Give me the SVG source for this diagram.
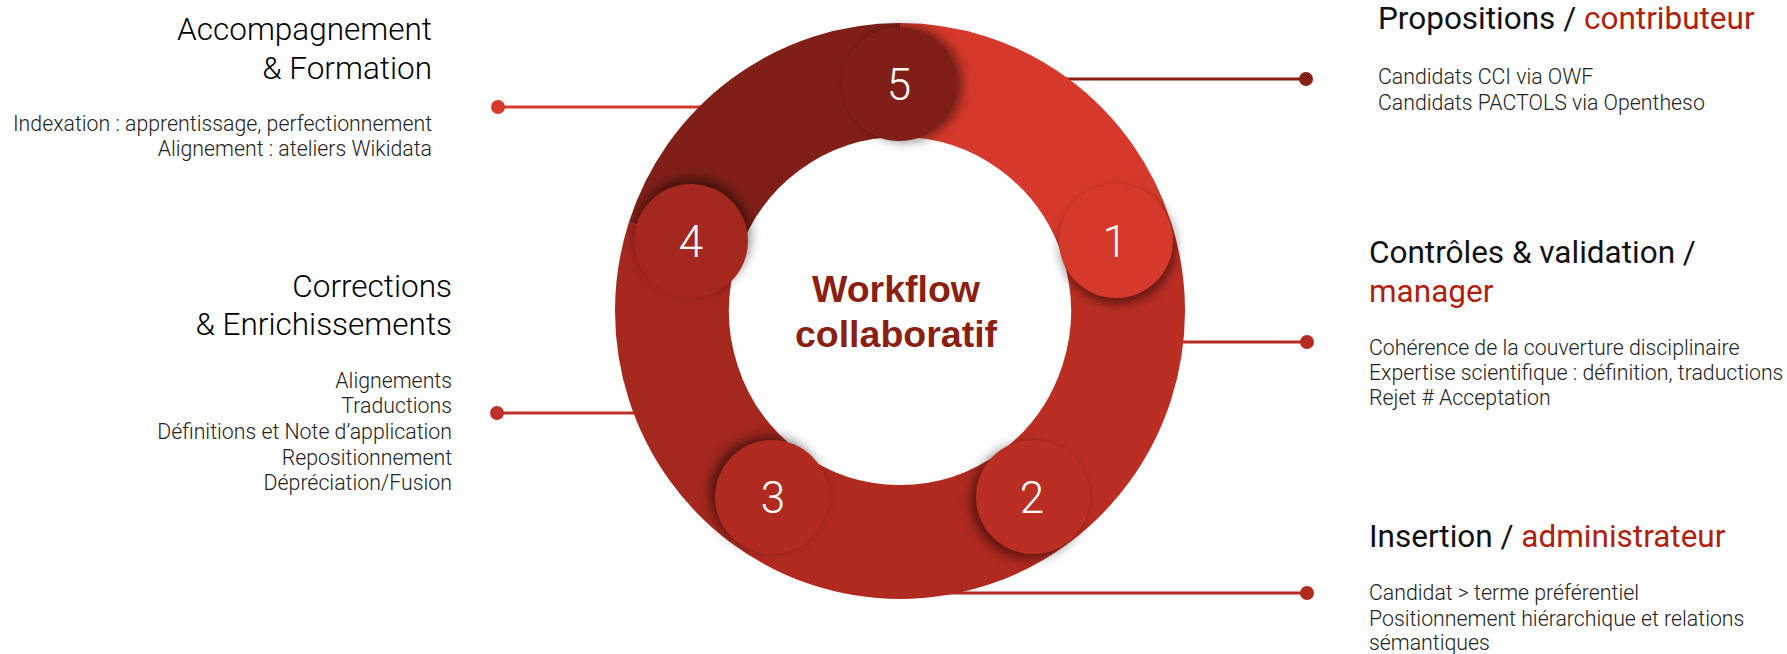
<svg xmlns="http://www.w3.org/2000/svg" width="1787" height="654" viewBox="0 0 1787 654">
<defs>
<style>
.h{font-family:Roboto,"Liberation Sans",sans-serif;font-size:31.5px;font-weight:400;fill:#111}
.hl{font-weight:300;fill:#000}
.hr{fill:#b0200f}
.b{font-family:Roboto,"Liberation Sans",sans-serif;font-size:21.3px;font-weight:300;fill:#222}
.num{font-family:Roboto,"Liberation Sans",sans-serif;font-size:44px;font-weight:300;fill:#fff;text-anchor:middle}
.ctr{font-family:"Liberation Sans",Arial,sans-serif;font-size:37.5px;font-weight:700;fill:#8b1f12;text-anchor:middle}
.seg{fill:none;stroke-width:114}
.ln{stroke-width:3;fill:none}
.sh{fill:#000;opacity:0.5;filter:url(#blur)}
</style>
<filter id="blur" x="-50%" y="-50%" width="200%" height="200%"><feGaussianBlur stdDeviation="6"/></filter>
</defs>
<rect width="1787" height="654" fill="#fff"/>
<g id="connectors">
<line class="ln" x1="498" y1="107" x2="780" y2="107" stroke="#d63a2c"/><circle cx="498" cy="107" r="7" fill="#d63a2c"/>
<line class="ln" x1="497" y1="413" x2="700" y2="413" stroke="#bd3027"/><circle cx="497" cy="413" r="7" fill="#bd3027"/>
<line class="ln" x1="960" y1="79" x2="1306" y2="79" stroke="#8c1d15"/><circle cx="1306" cy="79" r="7" fill="#85201a"/>
<line class="ln" x1="1100" y1="342" x2="1307" y2="342" stroke="#b52b22"/><circle cx="1307" cy="342" r="7" fill="#b52b22"/>
<line class="ln" x1="940" y1="593" x2="1307" y2="593" stroke="#b02a20"/><circle cx="1307" cy="593" r="7" fill="#b02a20"/>
</g>
<g id="ring">
<path class="seg" stroke="#d5392b" d="M900,80 A228,231 0 0 1 1116.84,239.62"/>
<path class="seg" stroke="#bb2e23" d="M1116.84,239.62 A228,231 0 0 1 1034.02,497.88"/>
<path class="seg" stroke="#b02a20" d="M1034.02,497.88 A228,231 0 0 1 765.98,497.88"/>
<path class="seg" stroke="#a5281f" d="M765.98,497.88 A228,231 0 0 1 683.16,239.62"/>
<path class="seg" stroke="#801f18" d="M683.16,239.62 A228,231 0 0 1 900,80"/>
</g>
<g id="node-5">
<circle class="sh" cx="905" cy="84" r="57"/>
<circle cx="899" cy="84" r="57" fill="#801f18"/>
<text class="num" x="899" y="100">5</text>
</g>
<g id="node-1">
<circle class="sh" cx="1118" cy="247" r="57"/>
<circle cx="1116" cy="241" r="57" fill="#d5392b"/>
<text class="num" x="1115" y="257">1</text>
</g>
<g id="node-2">
<circle class="sh" cx="1028" cy="501" r="57"/>
<circle cx="1033" cy="497" r="57" fill="#bb2e23"/>
<text class="num" x="1032" y="513">2</text>
</g>
<g id="node-3">
<circle class="sh" cx="767" cy="493" r="57"/>
<circle cx="772" cy="497" r="57" fill="#b02a20"/>
<text class="num" x="773" y="513">3</text>
</g>
<g id="node-4">
<circle class="sh" cx="693" cy="235" r="57"/>
<circle cx="691" cy="241" r="57" fill="#a5281f"/>
<text class="num" x="691" y="257">4</text>
</g>
<g id="center-label">
<text class="ctr" x="896" y="302">Workflow</text>
<text class="ctr" x="896" y="347">collaboratif</text>
</g>
<g id="label-accompagnement" text-anchor="end">
<text class="h hl" x="432" y="40">Accompagnement</text>
<text class="h hl" x="432" y="79">&amp; Formation</text>
<text class="b" x="432" y="131">Indexation : apprentissage, perfectionnement</text>
<text class="b" x="432" y="156">Alignement : ateliers Wikidata</text>
</g>
<g id="label-corrections" text-anchor="end">
<text class="h hl" x="452" y="297">Corrections</text>
<text class="h hl" x="452" y="335">&amp; Enrichissements</text>
<text class="b" x="452" y="388">Alignements</text>
<text class="b" x="452" y="413">Traductions</text>
<text class="b" x="452" y="439">Définitions et Note d’application</text>
<text class="b" x="452" y="465">Repositionnement</text>
<text class="b" x="452" y="490">Dépréciation/Fusion</text>
</g>
<g id="label-propositions">
<text class="h" x="1378" y="29">Propositions / <tspan class="hr">contributeur</tspan></text>
<text class="b" x="1378" y="84">Candidats CCI via OWF</text>
<text class="b" x="1378" y="110">Candidats PACTOLS via Opentheso</text>
</g>
<g id="label-controles">
<text class="h" x="1369" y="263">Contrôles &amp; validation /</text>
<text class="h hr" x="1369" y="302">manager</text>
<text class="b" x="1369" y="355">Cohérence de la couverture disciplinaire</text>
<text class="b" x="1369" y="380">Expertise scientifique : définition, traductions</text>
<text class="b" x="1369" y="405">Rejet # Acceptation</text>
</g>
<g id="label-insertion">
<text class="h" x="1369" y="547">Insertion / <tspan class="hr">administrateur</tspan></text>
<text class="b" x="1369" y="600">Candidat &gt; terme préférentiel</text>
<text class="b" x="1369" y="626">Positionnement hiérarchique et relations</text>
<text class="b" x="1369" y="650">sémantiques</text>
</g>
</svg>
